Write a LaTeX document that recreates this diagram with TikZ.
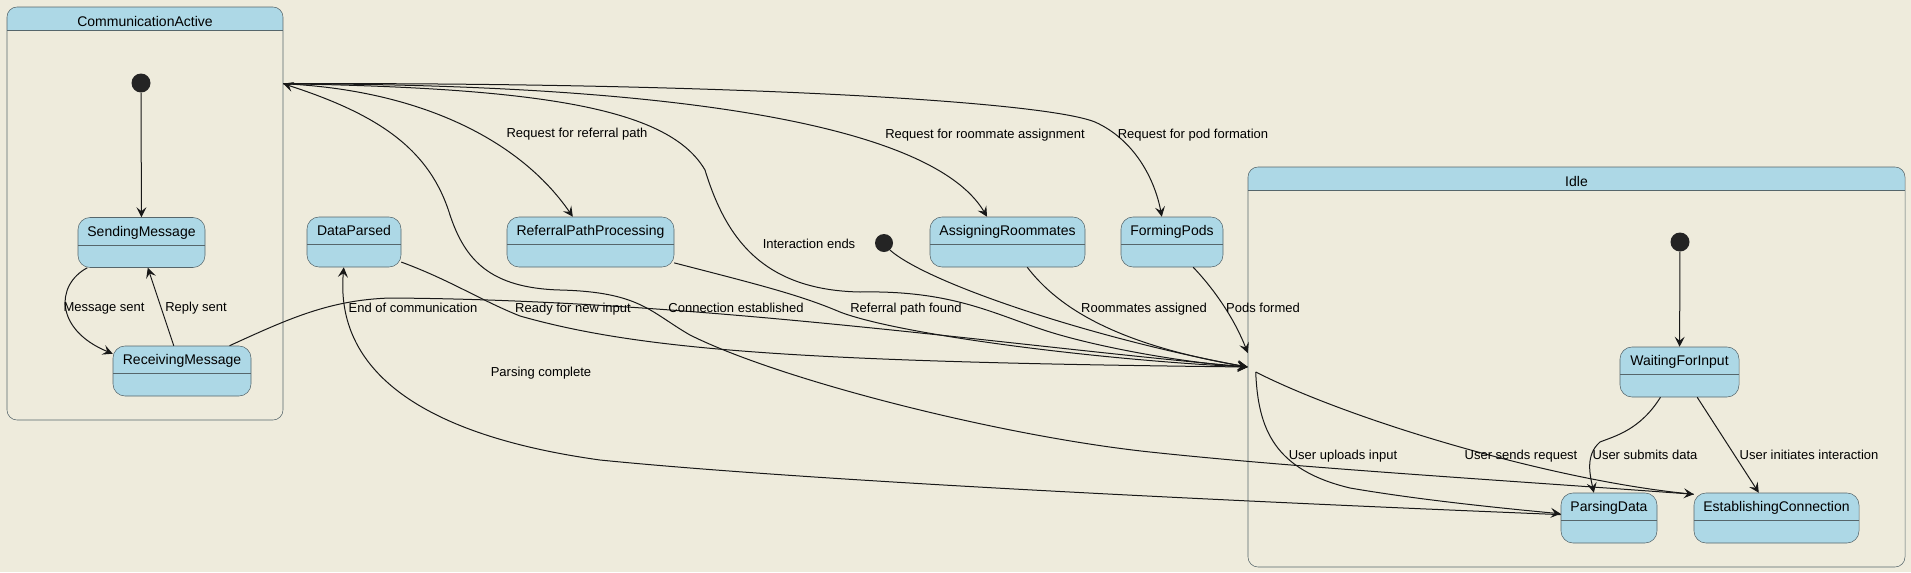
\documentclass[tikz,border=0pt]{standalone}
\usepackage{fontspec}
\setmainfont{Liberation Sans}
\usetikzlibrary{arrows.meta,calc}

\definecolor{bgbeige}{HTML}{EEEBDC}
\definecolor{stateblue}{HTML}{ADD8E6}
\definecolor{stateline}{HTML}{56666B}
\definecolor{wire}{HTML}{181818}

\tikzset{
  boxw/.style={minimum width=#1*0.75pt},
  state/.style={draw=stateline, fill=stateblue, rounded corners=9pt,
    inner xsep=0pt, inner ysep=0pt, text height=14pt, text depth=23.5pt,
    font=\fontsize{10.5}{12}\selectfont,
    path picture={\draw[stateline, sharp corners] ([yshift=-20.6pt]path picture bounding box.north west)
      -- ([yshift=-20.6pt]path picture bounding box.north east);}},
  compo/.style={draw=stateline, rounded corners=7.5pt, inner sep=0pt,
    text height=14.25pt, font=\fontsize{10.5}{12}\selectfont,
    path picture={\fill[stateblue, sharp corners] (path picture bounding box.north west)
      rectangle ([yshift=-17.25pt]path picture bounding box.north east);
      \draw[stateline, sharp corners] ([yshift=-17.25pt]path picture bounding box.north west)
      -- ([yshift=-17.25pt]path picture bounding box.north east);}},
  startdot/.style={circle, fill=wire!95!white, inner sep=0pt, minimum size=14.25pt},
  trans/.style={draw=wire, line width=0.75pt, -{Stealth[length=7.5pt,width=7.5pt,inset=3pt]}},
  lab/.style={font=\fontsize{9.75}{11}\selectfont, inner sep=0pt, text height=7pt, text depth=0pt},
}

\begin{document}
\begin{tikzpicture}[x=0.75pt,y=-0.75pt]
  \useasboundingbox (0,0) rectangle (1911,572);
  \fill[bgbeige] (0,0) rectangle (1911,572);

  % composite states
  \node[compo, boxw=276, minimum height=309.75pt, text depth=295.5pt] (active) at (145,213.5) {CommunicationActive};
  \node[compo, boxw=657, minimum height=300pt, text depth=285.75pt] (idle) at (1576.5,367) {Idle};

  % inside CommunicationActive
  \node[startdot] (actinit) at (141,83) {};
  \node[state, boxw=127] (sendmsg) at (141.5,242.5) {SendingMessage};
  \node[state, boxw=138] (recvmsg) at (182,371) {ReceivingMessage};

  % top level states
  \node[state, boxw=94] (dataparsed) at (354,242) {DataParsed};
  \node[state, boxw=167] (referral) at (590.5,242) {ReferralPathProcessing};
  \node[startdot, minimum size=13.5pt] (topinit) at (884,243) {};
  \node[state, boxw=155] (assigning) at (1007.5,242) {AssigningRoommates};
  \node[state, boxw=102] (formingpods) at (1172,242) {FormingPods};

  % inside Idle
  \node[startdot] (idleinit) at (1680,242) {};
  \node[state, boxw=119] (waiting) at (1679.5,372) {WaitingForInput};
  \node[state, boxw=96] (parsing) at (1609,518) {ParsingData};
  \node[state, boxw=165] (establishing) at (1776.5,518) {EstablishingConnection};

  % ports on the composite borders
  \coordinate (activeport) at ($(active.north east)+(0,77)$);
  \coordinate (idlein) at (idle.west);
  \coordinate (idlepods) at ($(idle.west)+(0,-14)$);
  \coordinate (idleout) at ($(idle.west)+(8,5)$);

  % CommunicationActive internals
  \draw[trans] (actinit) -- (sendmsg);
  \draw[trans] (sendmsg.205) .. controls (55,285) and (55,330) .. (recvmsg.166);
  \draw[trans] (recvmsg.108) -- (sendmsg.284);

  % requests out of CommunicationActive
  \draw[trans] (activeport) .. controls (420,90) and (520,140) .. (referral.125);
  \draw[trans] (activeport) .. controls (650,84) and (930,120) .. (assigning.129);
  \draw[trans] (activeport) .. controls (700,82) and (1040,100) .. (1095,122)
    .. controls (1135,140) and (1155,180) .. (formingpods.112);

  % back to Idle
  \draw[trans] (activeport) .. controls (550,88) and (670,110) .. (705,170)
    .. controls (725,235) and (760,290) .. (860,292)
    .. controls (960,290) and (1000,318) .. (1060,335)
    .. controls (1120,352) and (1200,364) .. (idlein);
  \draw[trans] (recvmsg.28.5) .. controls (290,318) and (330,300) .. (390,298)
    .. controls (700,300) and (1000,345) .. (idlein);
  \draw[trans] (dataparsed.337) .. controls (450,280) and (480,300) .. (520,316)
    .. controls (640,350) and (800,362) .. (idlein);
  \draw[trans] (referral.346.5) .. controls (760,285) and (800,295) .. (840,312)
    .. controls (900,335) and (1100,360) .. (idlein);
  \draw[trans] (assigning.308) .. controls (1060,310) and (1120,345) .. (idlein);
  \draw[trans] (formingpods.310) .. controls (1215,290) and (1235,320) .. (idlepods);
  \draw[trans] (topinit.-50) .. controls (930,285) and (1100,340) .. (idlein);

  % Idle internals
  \draw[trans] (idleinit) -- (waiting);
  \draw[trans] (idleout) .. controls (1258,430) and (1275,470) .. (1350,488)
    .. controls (1420,500) and (1500,508) .. (parsing.175);
  \draw[trans] (idleout) .. controls (1350,420) and (1550,480) .. (establishing.164);
  \draw[trans] (waiting.233.5) .. controls (1640,430) and (1615,436) .. (1600,442)
    .. controls (1585,455) and (1590,475) .. (parsing.121);
  \draw[trans] (waiting.305) -- (establishing.125);

  % long returns
  \draw[trans] (parsing.176) .. controls (1200,500) and (800,480) .. (600,460)
    .. controls (420,435) and (335,370) .. (dataparsed.248);
  \draw[trans] (establishing.164) .. controls (1500,480) and (1300,468) .. (1150,452)
    .. controls (1000,436) and (780,380) .. (690,335)
    .. controls (650,312) and (640,292) .. (560,290)
    .. controls (490,288) and (465,260) .. (450,215)
    .. controls (430,150) and (380,115) .. (activeport);

  % labels
  \node[lab] (lmsgsent) at (104,307) {Message sent};
  \node[lab] (lreply) at (196,307) {Reply sent};
  \node[lab] (lendcomm) at (413,308) {End of communication};
  \node[lab] (lready) at (573,308) {Ready for new input};
  \node[lab] (lconn) at (736,308) {Connection established};
  \node[lab] (lrefound) at (906,308) {Referral path found};
  \node[lab] (lroomdone) at (1144,308) {Roommates assigned};
  \node[lab] (lpodsdone) at (1263,308) {Pods formed};
  \node[lab] (lparsed) at (541,372) {Parsing complete};
  \node[lab] (lends) at (809,244) {Interaction ends};
  \node[lab] (lreqref) at (577,133) {Request for referral path};
  \node[lab] (lreqroom) at (985,134) {Request for roommate assignment};
  \node[lab] (lreqpod) at (1193,134) {Request for pod formation};
  \node[lab] (luploads) at (1343,455) {User uploads input};
  \node[lab] (lsends) at (1521,455) {User sends request};
  \node[lab] (lsubmits) at (1645,455) {User submits data};
  \node[lab] (linit) at (1809,455) {User initiates interaction};
\end{tikzpicture}
\end{document}
